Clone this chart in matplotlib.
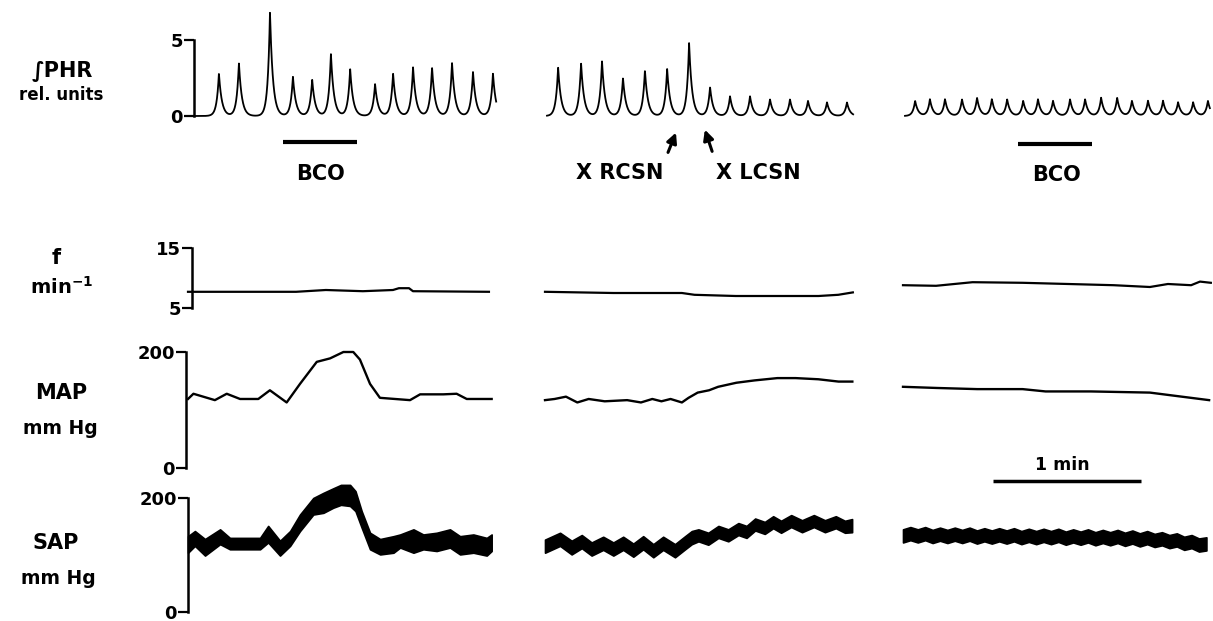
import numpy as np
import matplotlib
matplotlib.use('Agg')
import matplotlib.pyplot as plt

plt.rcParams['font.family'] = 'DejaVu Sans'
plt.rcParams['font.weight'] = 'bold'

# ---------------- data (time in s from start of each record segment) ----------------
# integrated phrenic activity: burst times and peak heights (rel. units)
phr1_t = [10.1, 18.2, 30.8, 40.1, 47.9, 55.5, 63.3, 73.4, 80.7, 88.8, 96.5, 104.6, 113.1, 121.2]
phr1_a = [2.8, 3.5, 6.8, 2.6, 2.4, 4.1, 3.1, 2.1, 2.8, 3.2, 3.2, 3.5, 2.9, 2.8]
phr2_t = [4.5, 13.8, 22.3, 30.8, 39.7, 48.7, 57.6, 66.1, 74.2, 82.3, 90.4, 98.5, 105.8, 113.5, 121.6]
phr2_a = [3.2, 3.5, 3.6, 2.5, 3.0, 3.1, 4.8, 1.9, 1.3, 1.3, 1.1, 1.1, 1.0, 0.9, 0.9]
phr3_t = [4.1, 10.1, 16.2, 23.1, 29.2, 35.2, 41.4, 47.9, 53.9, 60.0, 66.9, 73.0, 79.5, 86.0,
          92.0, 98.5, 104.6, 110.7, 116.8, 122.8]
phr3_a = [1.0, 1.1, 1.1, 1.1, 1.2, 1.1, 1.1, 1.0, 1.1, 1.0, 1.1, 1.1, 1.2, 1.2,
          1.0, 1.0, 1.0, 0.9, 0.9, 1.0]
phr_end = [122.5, 124.1, 123.6]

# breathing frequency (min-1)
f1_t = [0, 43.8, 55.9, 70.9, 83.1, 85.5, 89.6, 91.2, 122]
f1_v = [7.7, 7.7, 8.0, 7.8, 8.0, 8.3, 8.3, 7.8, 7.7]
f2_t = [0, 27.7, 55.5, 60.6, 77.3, 110.9, 118.9, 124.8]
f2_v = [7.7, 7.5, 7.5, 7.2, 7.0, 7.0, 7.2, 7.6]
f3_t = [0, 13.4, 28.2, 48.5, 67, 85.4, 100.1, 107.4, 116.8, 120.4, 124.8]
f3_v = [8.8, 8.7, 9.3, 9.2, 9.0, 8.8, 8.5, 9.0, 8.8, 9.4, 9.2]

# mean arterial pressure (mm Hg)
map1_t = [0, 2.2, 10.9, 15.7, 21.1, 28.5, 33.2, 40, 45.4, 52.2, 57.6, 63, 67, 69.7, 73.8,
          77.8, 90, 94.1, 103.5, 108.9, 113, 123.1]
map1_v = [119, 128, 117, 128, 119, 119, 134, 113, 145, 183, 189, 200, 200, 187, 145,
          121, 117, 127, 127, 128, 119, 119]
map2_t = [0, 3.9, 8.5, 13.1, 17.7, 24.2, 33.3, 38.9, 43.5, 47.2, 50.9, 55.5, 58.2, 61.9,
          66.5, 70.2, 77.6, 84.9, 94.2, 101.6, 110.8, 119, 124.6]
map2_v = [117, 119, 123, 113, 119, 115, 117, 113, 119, 115, 119, 113, 121, 130,
          134, 140, 147, 151, 155, 155, 153, 149, 149]
map3_t = [0, 13.6, 30.1, 48.5, 57.8, 76.2, 100.1, 109.3, 116.7, 124.1]
map3_v = [140, 138, 136, 136, 132, 132, 130, 125, 121, 117]

# systemic arterial pressure, systolic / diastolic envelope (mm Hg)
sap1_t = [0, 2.8, 6.9, 13, 17, 29.2, 32.5, 37.3, 41.4, 45.4, 50.8, 54.9, 58.9, 62, 65.7,
          67.9, 70.4, 73.8, 77.9, 83.3, 86, 91.4, 95.4, 100.8, 106.2, 110.3, 115.7, 121.1, 123.1]
sap1_sys = [133, 142, 128, 145, 130, 130, 151, 125, 142, 171, 200, 209, 217, 223, 223,
            212, 177, 139, 128, 133, 136, 145, 136, 139, 145, 133, 136, 130, 136]
sap1_dia = [104, 116, 99, 119, 110, 110, 122, 99, 116, 142, 171, 174, 183, 188, 186,
            177, 148, 110, 101, 104, 113, 104, 110, 107, 113, 101, 104, 99, 107]
sap2_t = [0, 6.1, 10.8, 14.9, 18.9, 23.6, 27.7, 31.7, 35.8, 39.8, 43.9, 47.9, 52.7, 56.8,
          59.5, 62.2, 66.2, 70.3, 74.3, 78.4, 81.7, 85.2, 89.1, 92.5, 95.7, 99.8, 104.2,
          109, 113.5, 117.9, 121.6, 124.5]
sap2_sys = [127, 139, 125, 135, 122, 132, 122, 132, 120, 133, 119, 132, 119, 133,
            142, 145, 139, 151, 145, 156, 151, 164, 158, 168, 160, 170, 161,
            170, 161, 168, 160, 163]
sap2_dia = [104, 116, 101, 112, 99, 109, 99, 109, 97, 110, 96, 109, 96, 110,
            119, 124, 118, 130, 124, 135, 130, 143, 137, 147, 139, 149, 140,
            149, 140, 147, 139, 140]
sap3_t = [0, 3, 6, 9, 12, 15, 18, 21, 24, 27, 30, 33, 36, 39, 42, 45, 48, 51, 54, 57, 60,
          63, 66, 69, 72, 75, 78, 81, 84, 87, 90, 93, 96, 99, 102, 105, 108, 111, 114, 117, 120, 123]
sap3_sys = [145, 149, 145, 149, 144, 148, 144, 148, 144, 148, 143, 147, 143, 147, 143, 147,
            142, 146, 142, 146, 142, 146, 141, 145, 141, 145, 140, 144, 140, 144, 139, 143,
            138, 142, 137, 140, 135, 138, 132, 135, 129, 131]
sap3_dia = [122, 126, 122, 126, 121, 125, 121, 125, 121, 125, 120, 124, 120, 124, 120, 124,
            119, 123, 119, 123, 119, 123, 118, 122, 118, 122, 117, 121, 117, 121, 116, 120,
            115, 119, 114, 117, 112, 115, 109, 112, 106, 108]

# ---------------- layout (pixels of the 1213 x 621 picture) ----------------
W, H = 1213, 621
PX_PER_S = 148 / 60.0          # the 1 min bar is 148 px long
def s(px):
    return px / PX_PER_S

phr_start = [194, 547, 905]
low_start = [188, 545, 903]

fig = plt.figure(figsize=(W / 100, H / 100), dpi=100)


def row_axes(top, bot, ref_px, ref_v, px_per_unit):
    ax = fig.add_axes([0, 1 - bot / H, 1, (bot - top) / H])
    ax.set_xlim(0, s(W))
    ax.set_ylim(ref_v - (bot - ref_px) / px_per_unit, ref_v + (ref_px - top) / px_per_unit)
    ax.patch.set_alpha(0)
    for side in ['top', 'right', 'bottom']:
        ax.spines[side].set_visible(False)
    ax.set_xticks([])
    return ax


def bracket(ax, spine_px, lo, hi):
    sp = ax.spines['left']
    sp.set_position(('data', s(spine_px)))
    sp.set_bounds(lo, hi)
    sp.set_linewidth(1.8)
    ax.set_yticks([lo, hi])
    ax.set_yticklabels([str(lo), str(hi)])
    ax.tick_params(axis='y', direction='out', length=7, width=1.6, pad=1, labelsize=13)


# PHR row
ax_phr = row_axes(0, 200, 116, 0, 15.2)
bracket(ax_phr, 194, 0, 5)
for start, bt, ba, end in zip(phr_start, [phr1_t, phr2_t, phr3_t],
                              [phr1_a, phr2_a, phr3_a], phr_end):
    tt = np.linspace(0, end, 3000)
    yy = np.zeros_like(tt)
    for ti, ai in zip(bt, ba):
        d = tt - ti
        yy += ai * np.where(d < 0, np.exp(np.minimum(d, 0) / 0.9), np.exp(-np.maximum(d, 0) / 1.2))
    ax_phr.plot(s(start) + tt, yy, color='black', lw=1.3)

# f row
ax_f = row_axes(235, 320, 308, 5, 6.0)
bracket(ax_f, 192, 5, 15)
for start, t, v in zip(low_start, [f1_t, f2_t, f3_t], [f1_v, f2_v, f3_v]):
    ax_f.plot(s(start) + np.array(t), v, color='black', lw=1.6)

# MAP row
ax_map = row_axes(335, 482, 468, 0, 0.58)
bracket(ax_map, 186, 0, 200)
for start, t, v in zip(low_start, [map1_t, map2_t, map3_t], [map1_v, map2_v, map3_v]):
    ax_map.plot(s(start) + np.array(t), v, color='black', lw=1.7, solid_joinstyle='round')

# SAP row
ax_sap = row_axes(480, 621, 612, 0, 0.57)
bracket(ax_sap, 188, 0, 200)
for start, t, lo, hi in zip(low_start, [sap1_t, sap2_t, sap3_t],
                            [sap1_dia, sap2_dia, sap3_dia], [sap1_sys, sap2_sys, sap3_sys]):
    ax_sap.fill_between(s(start) + np.array(t), lo, hi, color='black', lw=1.2,
                        edgecolor='black', joinstyle='round')

# overlay for labels and markers, y in pixels
ov = fig.add_axes([0, 0, 1, 1])
ov.set_xlim(0, s(W))
ov.set_ylim(H, 0)
ov.axis('off')

def label(px, py, txt, size):
    ov.text(s(px), py, txt, ha='center', va='center', fontsize=size, fontweight='bold')

label(62, 71, '\u222bPHR', 15)
label(61, 95, 'rel. units', 12)
label(56, 258, 'f', 15)
label(62, 287, r'$\mathbf{min^{-1}}$', 14)
label(61, 393, 'MAP', 15)
label(60, 428, 'mm Hg', 13.5)
label(56, 543, 'SAP', 15)
label(58, 578, 'mm Hg', 13.5)

# stimulus bars (30 s) and scale bar (60 s)
for x0, y0 in [(283, 142), (1018, 144)]:
    ov.plot([s(x0), s(x0) + 30], [y0, y0], color='black', lw=3, solid_capstyle='butt')
label(320, 174, 'BCO', 15)
label(1057, 175, 'BCO', 15)
ov.plot([s(993), s(993) + 60], [481, 481], color='black', lw=2.5, solid_capstyle='butt')
label(1062, 465, '1 min', 12.5)

label(620, 173, 'X RCSN', 15)
label(758, 173, 'X LCSN', 15)
ov.annotate('', xy=(s(677), 130), xytext=(s(667), 155),
            arrowprops=dict(arrowstyle='-|>', color='black', lw=2.2, mutation_scale=15))
ov.annotate('', xy=(s(704), 127), xytext=(s(713), 154),
            arrowprops=dict(arrowstyle='-|>', color='black', lw=2.2, mutation_scale=15))

fig.savefig('out.png', dpi=100)
